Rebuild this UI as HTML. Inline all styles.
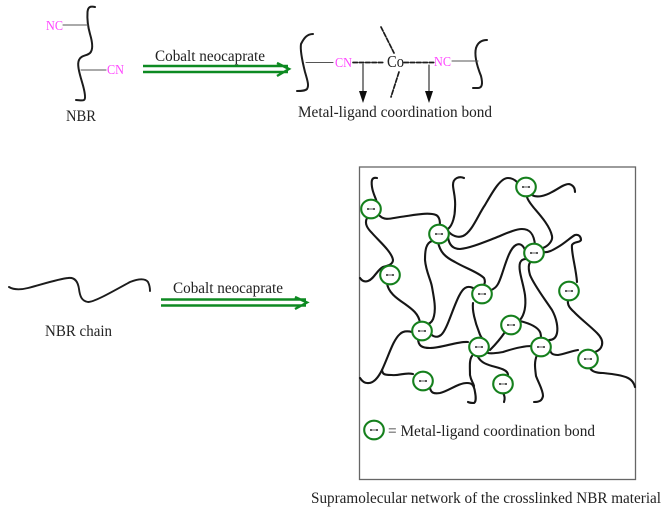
<!DOCTYPE html>
<html><head><meta charset="utf-8"><style>
html,body{margin:0;padding:0;background:#fff}
svg{display:block}
text{font-family:"Liberation Serif",serif;fill:#222}
.m{fill:#ff44ff}
.c path{fill:none;stroke:#151515;stroke-width:2.1;stroke-linecap:round}
.n ellipse{fill:#fff;stroke:#12801f;stroke-width:2.1}
.n path{fill:none;stroke:#222;stroke-width:1.5;stroke-dasharray:2.500 1 1 1 2.500}
</style></head><body>
<svg width="666" height="516" viewBox="0 0 666 516" xmlns="http://www.w3.org/2000/svg">
<defs>
<filter id="b" x="-5%" y="-5%" width="110%" height="110%"><feGaussianBlur stdDeviation="0.35"/></filter>
<g id="d" class="n"><ellipse rx="9.800" ry="9.300"/><path d="M-4 0H4"/></g>
</defs>
<g filter="url(#b)">
<!-- NBR top-left -->
<g fill="none" stroke="#1a1a1a" stroke-linecap="round">
<path stroke-width="2" d="M95 7C90 6 88 7 87.500 12C87 20 88 27 90 34C93 44 93 50 90 53C87 56 81 55 79 60C77 64 79 72 82 82C85 92 86 99 84 100C82 101 79 100 76 100"/>
<path stroke="#555" stroke-width="1.100" d="M63 25H88M81 70H106"/>
<!-- Right structure -->
<path stroke-width="2" d="M313 34C307 34 304 38 301 44C300 50 302 60 305 72C308 82 309 86 307 89C305 91 301 91 297 91"/>
<path stroke-width="2" d="M487 40C482 40 478 42 476 48C474 56 477 66 481 76C483 84 482 88 478 88C476 88 474 88 473 88"/>
<path stroke="#555" stroke-width="1.100" d="M306 62.500H333M452 61H478"/>
<path stroke-width="1.700" stroke-dasharray="4.500 1.800" d="M353 62.500H383M404 62.500H434M381 27L394 53M399 72L391 97"/>
<path stroke="#222" stroke-width="1.100" d="M363 64V93M429 65V93"/>
<!-- NBR chain -->
<path stroke-width="1.900" d="M9 287C14 290 20 290 28 288C40 285 58 279 68 278C75 277 78 282 79 289C80 297 82 301 88 302C95 302 115 290 130 282C138 279 145 278 148 282C150 286 150 289 150 291"/>
</g>
<path fill="#111" d="M359 91L367 91L363 103ZM425 91L433 91L429 103Z"/>
<!-- green arrows -->
<g fill="none" stroke="#0f8a20" stroke-width="2.400">
<path d="M143 66H288M143 72H288M277 63L289 69L277 76"/>
<path d="M161 299.500H306M161 305.500H306M295 297L307 302.500L295 309"/>
</g>
<!-- frame -->
<rect x="359.500" y="167" width="276" height="312.500" fill="none" stroke="#666" stroke-width="1.300"/>
<!-- network -->
<g class="c">
<path d="M377 178C372 177 371 180 372 187C373 194 376 198 377 203"/>
<path d="M380 216C385 221 392 218 400 217C415 215 428 212 436 215C440 217 440 222 440 227"/>
<path d="M367 218C364 224 368 229 372 233C378 240 392 252 393 260C393 265 386 266 383 267C377 270 374 279 368 281C365 282 362 281 360 278"/>
<path d="M387 283C388 292 396 298 405 304C412 309 419 314 420 323"/>
<path d="M448 229C453 225 455 215 455 208C456 198 453 190 453 185C453 178 459 176 464 178"/>
<path d="M448 231C452 236 458 238 463 236C472 232 478 215 485 205C492 193 500 178 508 178C512 178 515 180 517 182"/>
<path d="M448 237C449 245 453 249 460 249C470 248 482 243 495 238C505 234 515 229 522 229C530 229 534 234 535 245"/>
<path d="M438 242C440 252 445 257 455 262C465 268 478 272 484 278C486 282 484 285 483 287"/>
<path d="M432 241C426 243 425 250 425 260C426 272 431 280 432 287C434 298 436 308 434 316C433 321 431 323 428 324"/>
<path d="M412 332C408 331 403 331 400 334C393 340 389 355 382 370C378 378 373 384 367 383C364 383 362 381 360 378"/>
<path d="M430 333C433 337 437 338 441 335C447 330 452 310 459 296C463 288 467 285 473 288"/>
<path d="M418 338C418 346 422 348 430 348C442 348 458 341 468 342"/>
<path d="M413 374C405 372 399 376 392 375C388 375 384 375 383 373C382 371 382 370 382 370"/>
<path d="M430 388C431 393 434 394 440 393C449 391 458 383 467 383C472 383 474 385 475 392C476 397 476 402 474 403C472 403 470 403 468 402"/>
<path d="M472 356C469 360 470 368 470 375C471 381 473 382 474 386"/>
<path d="M473 303C472 310 475 322 479 332C480 335 481 337 482 338"/>
<path d="M478 357C481 362 485 364 492 366C500 368 508 370 508 375"/>
<path d="M503 393C505 396 505 399 504 402"/>
<path d="M537 355C534 362 535 368 536 376C539 384 543 390 543 396C542 401 539 402 534 402"/>
<path d="M532 346C522 346 512 349 503 352C497 353 492 354 488 353"/>
<path d="M505 332C501 338 495 345 490 350"/>
<path d="M520 321C528 323 537 326 540 332C541 334 541 336 541 338"/>
<path d="M520 320C525 314 526 304 525 295C523 282 518 270 520 263C521 260 523 259 526 259"/>
<path d="M525 250C523 245 520 243 516 245C510 248 506 262 502 274C499 283 497 288 491 290"/>
<path d="M533 260C528 262 528 268 530 275C534 285 544 298 552 310C557 319 558 328 557 333C556 338 553 340 549 340"/>
<path d="M543 248C548 246 553 241 552 236C550 226 540 215 534 208C531 204 528 201 527 197"/>
<path d="M543 252C548 253 553 250 558 247C565 243 571 237 575 235C579 234 581 237 581 240C580 243 574 241 572 245C571 252 576 268 577 282"/>
<path d="M532 195C537 198 545 196 552 192C558 189 564 184 569 184C573 185 575 188 575 192"/>
<path d="M568 300C567 306 571 309 575 313C582 320 590 326 597 333C601 337 603 341 602 345C601 349 598 351 595 352"/>
<path d="M550 348C550 353 552 355 558 355C565 354 571 351 578 350"/>
<path d="M590 368C592 372 598 373 603 373C612 374 622 375 628 378C632 380 634 383 635 387"/>
</g>
<!-- nodes -->
<use href="#d" x="371" y="209"/><use href="#d" x="439" y="234"/><use href="#d" x="390" y="275"/>
<use href="#d" x="526" y="187"/><use href="#d" x="534" y="253"/><use href="#d" x="569" y="291"/>
<use href="#d" x="422" y="331"/><use href="#d" x="479" y="347"/><use href="#d" x="423" y="381"/>
<use href="#d" x="482" y="294"/><use href="#d" x="511" y="325"/><use href="#d" x="541" y="347"/>
<use href="#d" x="588" y="359"/><use href="#d" x="503" y="384"/>
<use href="#d" x="374" y="430"/>
<!-- text -->
<text class="m" x="46" y="30" font-size="13.500" textLength="17" lengthAdjust="spacingAndGlyphs">NC</text>
<text class="m" x="107" y="74" font-size="13.500" textLength="17" lengthAdjust="spacingAndGlyphs">CN</text>
<text x="66" y="121" font-size="15.500" textLength="30" lengthAdjust="spacingAndGlyphs">NBR</text>
<text x="155" y="61" font-size="16" textLength="110" lengthAdjust="spacingAndGlyphs">Cobalt neocaprate</text>
<text class="m" x="335" y="67" font-size="13.500" textLength="17" lengthAdjust="spacingAndGlyphs">CN</text>
<text class="m" x="434" y="66" font-size="13.500" textLength="17" lengthAdjust="spacingAndGlyphs">NC</text>
<text x="387" y="67" font-size="17" textLength="17" lengthAdjust="spacingAndGlyphs">Co</text>
<text x="298" y="117" font-size="16" textLength="194" lengthAdjust="spacingAndGlyphs">Metal-ligand coordination bond</text>
<text x="173" y="293" font-size="16" textLength="110" lengthAdjust="spacingAndGlyphs">Cobalt neocaprate</text>
<text x="45" y="336" font-size="16" textLength="67" lengthAdjust="spacingAndGlyphs">NBR chain</text>
<text x="388" y="436" font-size="16" textLength="207" lengthAdjust="spacingAndGlyphs">= Metal-ligand coordination bond</text>
<text x="311" y="503" font-size="16" textLength="350" lengthAdjust="spacingAndGlyphs">Supramolecular network of the crosslinked NBR material</text>
</g>
</svg>
</body></html>
